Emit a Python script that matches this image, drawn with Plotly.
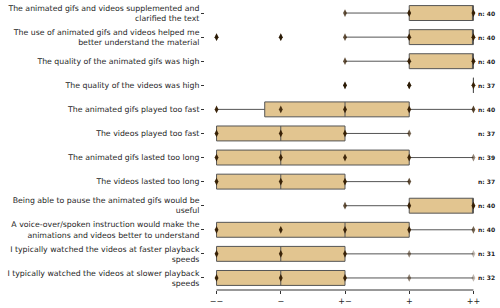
import plotly.graph_objects as go

categories = [
    "The animated gifs and videos supplemented and<br>clarified the text",
    "The use of animated gifs and videos helped me<br>better understand the material",
    "The quality of the animated gifs was high",
    "The quality of the videos was high",
    "The animated gifs played too fast",
    "The videos played too fast",
    "The animated gifs lasted too long",
    "The videos lasted too long",
    "Being able to pause the animated gifs would be<br>useful",
    "A voice-over/spoken instruction would make the<br>animations and videos better to understand",
    "I typically watched the videos at faster playback<br>speeds",
    "I typically watched the videos at slower playback<br>speeds",
]
lower_fence = [3, 3, 3, 5, 1, 1, 1, 1, 3, 1, 1, 1]
q1 = [4, 4, 4, 5, 1.75, 1, 1, 1, 4, 1, 1, 1]
median = [5, 5, 5, 5, 3, 2, 2, 2, 5, 3, 2, 2]
q3 = [5, 5, 5, 5, 4, 3, 4, 3, 5, 4, 3, 3]
upper_fence = [5, 5, 5, 5, 5, 4, 5, 4, 5, 5, 5, 5]
outliers = [[], [1, 2], [], [3, 4], [], [], [], [], [], [], [], []]
# estimated number of answers per Likert value (1..5) for each statement
answer_counts = [
    [0, 0, 4, 14, 22],
    [1, 1, 4, 14, 20],
    [0, 0, 4, 13, 23],
    [0, 0, 1, 3, 33],
    [10, 6, 9, 10, 5],
    [12, 10, 12, 3, 0],
    [10, 10, 8, 9, 2],
    [12, 9, 12, 4, 0],
    [0, 0, 4, 12, 24],
    [10, 9, 8, 10, 3],
    [10, 9, 9, 2, 1],
    [11, 9, 9, 2, 1],
]
n_counts = [40, 40, 40, 37, 40, 37, 39, 37, 40, 40, 31, 32]
x_ticks = [1, 2, 3, 4, 5]
x_tick_labels = ["\u2212\u2212", "\u2212", "+\u2212", "+", "++"]

pos = list(range(len(categories)))
FONT = "DejaVu Sans"

fig = go.Figure()
fig.add_trace(go.Box(
    y=pos, q1=q1, median=median, q3=q3,
    lowerfence=lower_fence, upperfence=upper_fence,
    orientation="h", width=0.62, whiskerwidth=0,
    fillcolor="#E2C590", line=dict(color="#555555", width=1),
    boxpoints=False, showlegend=False,
))

# strip points: darkness grows with the number of overlapping answers
px, py, pc = [], [], []
for i, counts in enumerate(answer_counts):
    for v, c in zip(x_ticks, counts):
        if c > 0:
            a = 1 - (0.68 ** c)
            px.append(v)
            py.append(i)
            pc.append(f"rgba(55,32,5,{a:.2f})")
fig.add_trace(go.Scatter(
    x=px, y=py, mode="markers", showlegend=False,
    marker=dict(symbol="diamond-tall", size=5.5, color=pc, line=dict(width=0)),
))

# fliers
ox, oy = [], []
for i, vals in enumerate(outliers):
    for v in vals:
        ox.append(v)
        oy.append(i)
fig.add_trace(go.Scatter(
    x=ox, y=oy, mode="markers", showlegend=False,
    marker=dict(symbol="diamond-tall", size=5.5, color="#2a1a05", line=dict(width=0)),
))

for i, n in enumerate(n_counts):
    fig.add_annotation(x=5, y=i, text=f"<b>n: {n}</b>", showarrow=False,
                       xanchor="left", xshift=3,
                       font=dict(family=FONT, size=6, color="#222222"))

fig.add_shape(type="line", xref="x", yref="paper", x0=1, x1=5, y0=0, y1=0,
              line=dict(color="#333333", width=1))

fig.update_layout(
    template="none",
    width=500, height=308,
    margin=dict(l=205, r=15, t=1, b=18, autoexpand=False),
    plot_bgcolor="white", paper_bgcolor="white",
    font=dict(family=FONT, size=8, color="#262626"),
)
fig.update_xaxes(range=[0.82, 5.18], tickvals=x_ticks, ticktext=x_tick_labels,
                 automargin=False,
                 showgrid=False, zeroline=False, showline=False,
                 ticks="outside", ticklen=3, tickcolor="#333333",
                 tickfont=dict(family=FONT, size=8, color="#262626"))
fig.update_yaxes(range=[11.5, -0.5], tickvals=pos, ticktext=categories,
                 automargin=False,
                 showgrid=False, zeroline=False, showline=False,
                 ticks="outside", ticklen=3, tickcolor="#333333",
                 tickfont=dict(family=FONT, size=7.8, color="#262626"))

fig.write_html(
    "out.html",
    config={"displayModeBar": False},
    post_script="document.body.style.margin='0';document.body.style.padding='0';document.body.style.overflow='hidden';",
)
